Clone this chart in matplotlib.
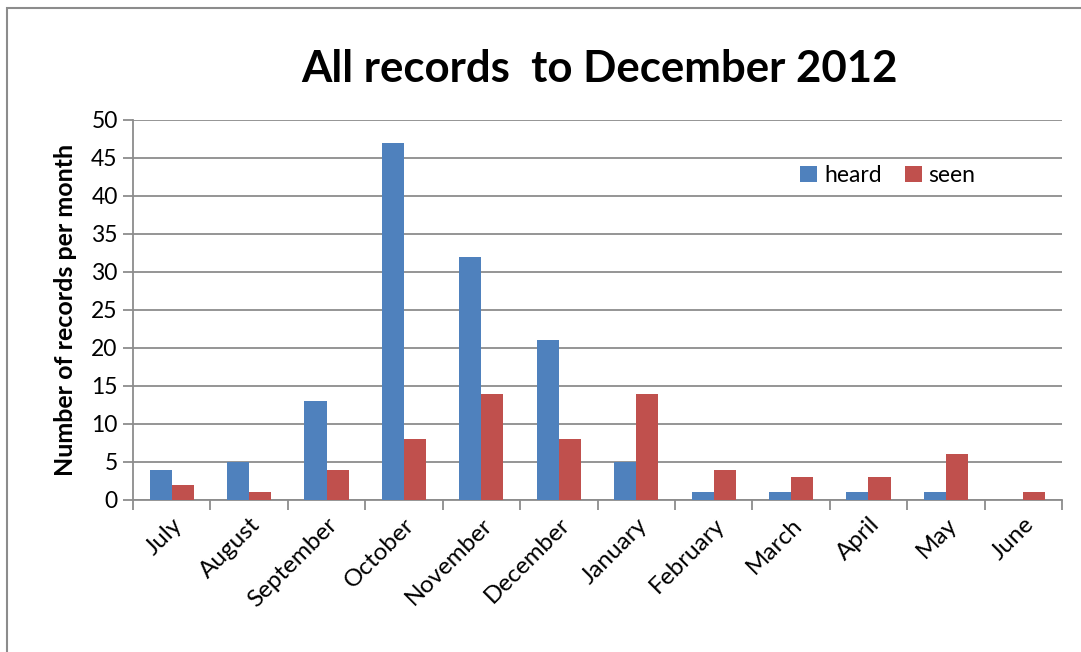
import matplotlib
matplotlib.use("Agg")
import matplotlib.pyplot as plt
from matplotlib.patches import Rectangle
import numpy as np

months = ["July", "August", "September", "October", "November", "December",
          "January", "February", "March", "April", "May", "June"]
heard = [4, 5, 13, 47, 32, 21, 5, 1, 1, 1, 1, 0]
seen = [2, 1, 4, 8, 14, 8, 14, 4, 3, 3, 6, 1]
yticks = [0, 5, 10, 15, 20, 25, 30, 35, 40, 45, 50]

plt.rcParams['font.family'] = ['Lato', 'DejaVu Sans']

fig = plt.figure(figsize=(10.81, 6.52), dpi=100)
# outer border
fig.patches.append(Rectangle((7/1081, -0.1), 1.2, (652-8)/652 + 0.1,
                             transform=fig.transFigure, fill=False,
                             edgecolor="#8c8c8c", linewidth=1.5, zorder=0))

ax = fig.add_axes([133/1081, 1-500/652, (1062-133)/1081, (500-120)/652])
x = np.arange(len(months))
w = 0.285
ax.bar(x - w/2, heard, w, color="#4F81BD", label="heard", zorder=3)
ax.bar(x + w/2, seen, w, color="#C0504D", label="seen", zorder=3)

ax.set_xlim(-0.5, len(months) - 0.5)
ax.set_ylim(0, 50)
ax.set_yticks(yticks)
ax.set_yticklabels([str(v) for v in yticks], fontsize=16.5)
ax.yaxis.grid(True, color="#8c8c8c", linewidth=1.3, zorder=0)
ax.set_axisbelow(True)

ax.set_xticks(np.arange(len(months) + 1) - 0.5, minor=False)
ax.set_xticklabels([])
ax.set_xticks(x, minor=True)
ax.set_xticklabels(months, minor=True, rotation=45, ha='right',
                   rotation_mode='anchor', fontsize=17.5)
ax.tick_params(axis='x', which='minor', length=0, pad=10)
ax.tick_params(axis='x', which='major', length=7, width=1.3, color="#8c8c8c")
ax.tick_params(axis='y', length=7, width=1.3, color="#8c8c8c", pad=4)

for s in ["top", "right"]:
    ax.spines[s].set_visible(False)
for s in ["left", "bottom"]:
    ax.spines[s].set_color("#8c8c8c")
    ax.spines[s].set_linewidth(1.3)

ax.set_ylabel("Number of records per month", fontsize=18, fontweight='bold', labelpad=10)
fig.text(0.555, 1 - 69/652, "All records  to December 2012", fontsize=31.5,
         fontweight='bold', ha='center', va='center')

leg = ax.legend(loc='upper left', bbox_to_anchor=((800-133)/929, 1 - 45/380),
                ncol=2, frameon=False, fontsize=16.5, handlelength=0.75,
                handleheight=0.75, handletextpad=0.3, columnspacing=1.0,
                borderaxespad=0, borderpad=0)

fig.savefig("out.png", dpi=100)
